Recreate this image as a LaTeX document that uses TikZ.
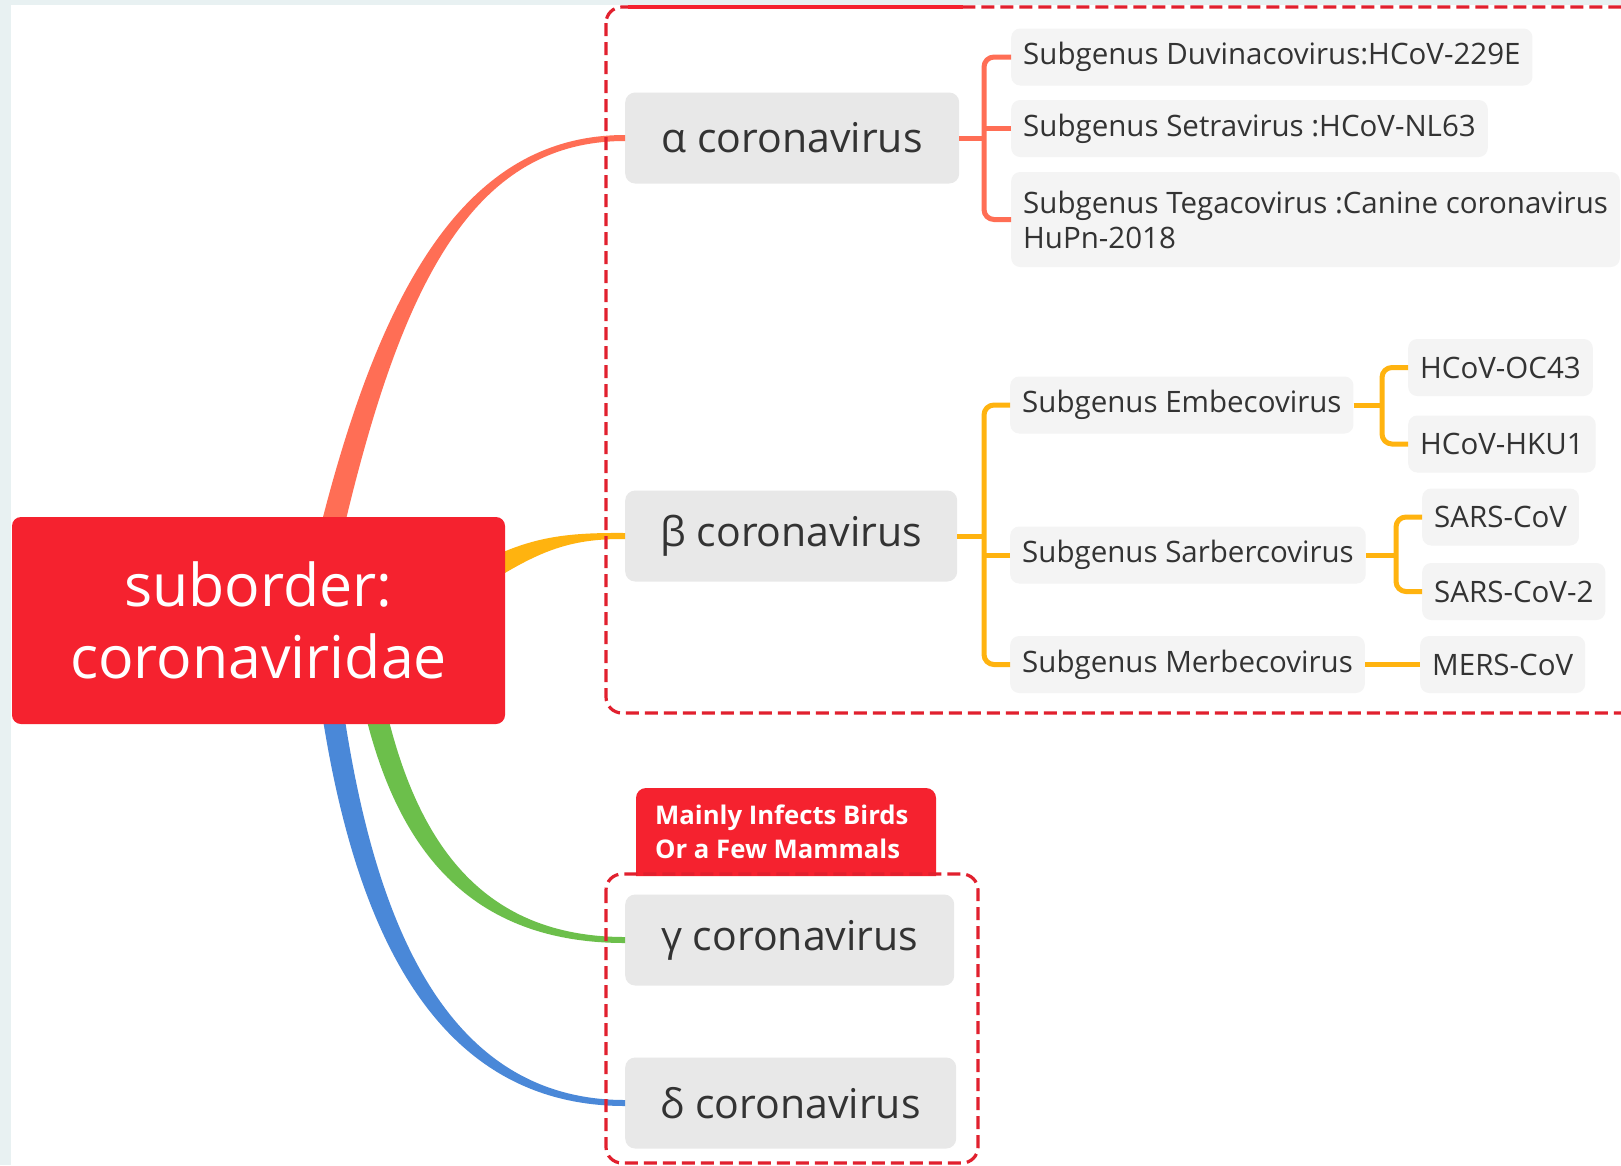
\documentclass[tikz,border=0pt]{standalone}
\usepackage{fontspec}
\setmainfont{Open Sans}
\usetikzlibrary{calc}
\definecolor{bgmargin}{HTML}{E8F1F2}
\definecolor{rootred}{HTML}{F5222F}
\definecolor{dashred}{HTML}{E1202E}
\definecolor{maingray}{HTML}{E8E8E8}
\definecolor{leafgray}{HTML}{F4F4F4}
\definecolor{txt}{HTML}{333333}
\definecolor{alphac}{HTML}{FF6E55}
\definecolor{betac}{HTML}{FFB30F}
\definecolor{gammac}{HTML}{6CBF4B}
\definecolor{deltac}{HTML}{4A88D8}
\begin{document}
\begin{tikzpicture}[x=1pt,y=-1pt,
  rootbox/.style={fill=rootred, rounded corners=9, text=white, align=center,
    minimum width=493, minimum height=207, inner sep=0,
    font=\fontsize{59}{72}\selectfont},
  mainbox/.style={fill=maingray, rounded corners=10, text=txt, anchor=west,
    minimum height=91, inner sep=0, font=\fontsize{41}{49}\selectfont},
  leafbox/.style={fill=leafgray, rounded corners=9, text=txt, anchor=west,
    minimum height=57, inner xsep=12, inner ysep=0, align=left,
    font=\fontsize{29.5}{35}\selectfont},
  dbox/.style={draw=dashred, line width=3.2, dash pattern=on 13 off 6, rounded corners=16},
  abr/.style={draw=alphac, line width=5, rounded corners=10},
  bbr/.style={draw=betac, line width=5, rounded corners=10}]
\useasboundingbox (0,0) rectangle (1621,1165);
\fill[bgmargin] (0,0) rectangle (1621,1165);
\fill[white] (11,5) rectangle (1621,1165);

% main nodes
\node[mainbox, minimum width=334] (alpha) at (625,138) {α coronavirus};
\node[mainbox, minimum width=332] (beta) at (625,536) {β coronavirus};
\node[mainbox, minimum width=329] (gamma) at (625,940) {γ coronavirus};
\node[mainbox, minimum width=331] (delta) at (625,1103) {δ coronavirus};

% tapered branches (drawn before root so they start under it)
\coordinate (aS1) at (316,545); \coordinate (aS2) at (340,545);
\fill[alphac] (aS1) .. controls (381,278) and (470,135) .. ($(alpha.west)+(0,-3)$)
  -- ($(alpha.west)+(0,3)$) .. controls (472,141) and (400,284) .. (aS2) -- cycle;
\coordinate (bS1) at (480,563); \coordinate (bS2) at (490,582);
\fill[betac] (bS1) .. controls (530,537) and (565,532.5) .. ($(beta.west)+(0,-3)$)
  -- ($(beta.west)+(0,3)$) .. controls (570,538.5) and (540,551) .. (bS2) -- cycle;
\coordinate (gS1) at (362,700); \coordinate (gS2) at (384,700);
\fill[gammac] (gS1) .. controls (395,850) and (470,943) .. ($(gamma.west)+(0,3)$)
  -- ($(gamma.west)+(0,-3)$) .. controls (480,937) and (415,840) .. (gS2) -- cycle;
\coordinate (dS1) at (320,700); \coordinate (dS2) at (342,700);
\fill[deltac] (dS1) .. controls (352,920) and (430,1106) .. ($(delta.west)+(0,3)$)
  -- ($(delta.west)+(0,-3)$) .. controls (440,1100) and (372,910) .. (dS2) -- cycle;

% root
\node[rootbox] (root) at (258.5,620.5) {suborder:\\coronaviridae};

% dashed groups
\draw[dbox] (606,7) rectangle (1680,713);
\draw[draw=rootred, line width=3.2] (628,7) -- (963,7);
\fill[rootred] (636,876) [rounded corners=10] -- (636,788) -- (936,788) [sharp corners] -- (936,876) -- cycle;
\node[anchor=west, text=white, align=left, inner sep=0,
  font=\bfseries\fontsize{25.7}{34}\selectfont] (lab) at (655,832) {Mainly Infects Birds\\Or a Few Mammals};
\draw[dbox] (606,874) rectangle (978,1163);

% alpha leaves
\node[leafbox] (a1) at (1011,57) {Subgenus Duvinacovirus:HCoV-229E};
\node[leafbox] (a2) at (1011,128.5) {Subgenus Setravirus :HCoV-NL63};
\node[leafbox, minimum height=95] (a3) at (1011,219.5) {Subgenus Tegacovirus :Canine coronavirus\\HuPn-2018};

% beta leaves
\node[leafbox] (b1) at (1010,405) {Subgenus Embecovirus};
\node[leafbox] (b2) at (1010,555) {Subgenus Sarbercovirus};
\node[leafbox] (b3) at (1010,664.5) {Subgenus Merbecovirus};
\node[leafbox] (c1) at (1408,367.5) {HCoV-OC43};
\node[leafbox] (c2) at (1408,444) {HCoV-HKU1};
\node[leafbox] (c3) at (1422,517) {SARS-CoV};
\node[leafbox] (c4) at (1422,591.5) {SARS-CoV-2};
\node[leafbox] (c5) at (1420,664.5) {MERS-CoV};

% alpha bracket
\coordinate (abx) at ($(a1.west |- alpha.east)+(-27,0)$);
\draw[abr] (a1.west) -| (abx) |- (a3.west);
\draw[abr] (alpha.east) -- (abx);
\draw[abr] (a2.west) -- (a2.west -| abx);

% beta bracket
\coordinate (bbx) at ($(b1.west |- beta.east)+(-26,0)$);
\draw[bbr] (b1.west) -| (bbx) |- (b3.west);
\draw[bbr] (beta.east) -- (bbx);
\draw[bbr] (b2.west) -- (b2.west -| bbx);

\coordinate (ebx) at ($(c1.west |- b1.east)+(-26,0)$);
\draw[bbr] (c1.west) -| (ebx) |- (c2.west);
\draw[bbr] (b1.east) -- (ebx);

\coordinate (sbx) at ($(c3.west |- b2.east)+(-26,0)$);
\draw[bbr] (c3.west) -| (sbx) |- (c4.west);
\draw[bbr] (b2.east) -- (sbx);

\draw[bbr] (b3.east) -- (c5.west);
\end{tikzpicture}
\end{document}
